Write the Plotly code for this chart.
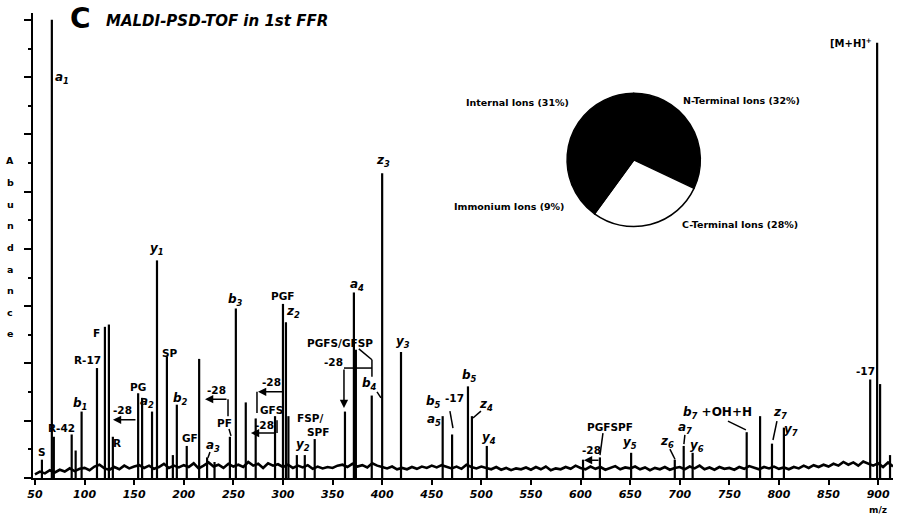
import plotly.graph_objects as go

FONT = "DejaVu Sans"

# resolved fragment peaks: m/z and relative abundance (a1 = 100)
peak_mz = [57, 67, 69, 87, 91, 97, 112.5, 120.5, 124.5, 128.5, 154, 158, 168, 173,
           183, 189, 193, 203, 215.5, 223.5, 231, 246.5, 252.5, 262.5, 272.5, 292,
           300, 303, 305.5, 314, 322, 332, 362.5, 371.5, 373.5, 389.5, 400, 419,
           461, 470.5, 486.5, 490.5, 505.5, 602.5, 619.5, 651, 695, 704, 713,
           767.5, 781, 793, 805, 892, 899, 902, 912]
peak_int = [4, 100, 9, 9.5, 6, 14.5, 24, 33, 33.5, 9, 18.5, 17.5, 14.5, 47.5,
            26.5, 5, 16, 7, 26, 4.5, 3.5, 9, 37, 16.5, 13, 13.5,
            38, 34, 13.5, 5, 5, 8.5, 14.5, 40.5, 28, 18, 66.5, 27.5,
            13.5, 9.5, 20, 13.5, 7, 4, 4.5, 5.5, 4, 7, 5.5,
            10, 13.5, 7.5, 11, 21.5, 95, 20.5, 5]

# chemical noise floor read every 5 m/z from 50 to 915
noise_mz = list(range(50, 916, 5))
noise_int = [0.8, 1.4, 1.0, 1.7, 1.2, 1.8, 1.4, 2.1, 1.5, 2.0,
             2.2, 1.7, 2.5, 2.9, 2.1, 1.8, 2.4, 1.9, 2.7, 2.1,
             2.5, 2.8, 2.2, 2.7, 2.0, 2.4, 3.1, 2.2, 2.7, 2.3,
             2.8, 2.4, 3.2, 2.1, 2.7, 3.4, 2.5, 2.9, 2.2, 3.1,
             2.5, 2.9, 2.4, 3.5, 2.7, 3.1, 2.2, 3.2, 2.7, 3.0,
             2.4, 2.9, 2.2, 2.7, 2.3, 2.8, 2.0, 2.5, 2.1, 2.4,
             2.2, 2.7, 2.9, 2.4, 3.1, 2.5, 2.8, 2.3, 3.2, 2.7,
             2.4, 2.1, 2.5, 1.9, 2.2, 1.9, 2.4, 2.0, 2.5, 2.2,
             2.7, 2.3, 2.8, 2.4, 2.1, 2.5, 2.0, 2.9, 2.4, 2.1,
             2.5, 2.2, 1.9, 2.4, 1.8, 2.2, 1.7, 2.1, 1.9, 2.3,
             1.8, 2.4, 1.9, 2.5, 1.7, 2.1, 1.9, 2.4, 2.0, 2.7,
             2.2, 1.9, 2.5, 2.0, 2.4, 1.8, 2.2, 2.6, 1.9, 2.3,
             2.1, 2.5, 1.9, 2.3, 1.7, 2.2, 1.9, 2.4, 1.8, 2.2,
             2.4, 1.9, 2.5, 2.1, 2.7, 1.9, 2.3, 1.8, 2.4, 2.0,
             2.2, 1.8, 2.4, 2.0, 2.6, 2.2, 1.9, 2.4, 2.1, 2.5,
             2.0, 2.3, 1.9, 2.4, 2.1, 2.7, 2.2, 2.8, 2.4, 2.9,
             2.5, 3.1, 2.7, 3.5, 2.9, 3.4, 2.7, 3.6, 3.1, 2.7,
             3.2, 2.4, 3.4, 2.5]

# inset: fragment ion type distribution
pie_labels = ["N-Terminal Ions (32%)", "C-Terminal Ions (28%)",
              "Immonium Ions (9%)", "Internal Ions (31%)"]
pie_values = [32, 28, 9, 31]
pie_colors = ["black", "white", "black", "black"]

# peak assignments: text, m/z, abundance, italic
peak_labels = [
    ("a<sub>1</sub>", 77.2, 87.3, True),
    ("S", 57.1, 5.7, False),
    ("R-42", 77.2, 10.9, False),
    ("b<sub>1</sub>", 95.4, 16.2, True),
    ("R-17", 103.4, 25.8, False),
    ("F", 112.5, 31.7, False),
    ("R", 132.7, 7.6, False),
    ("-28", 138.7, 14.8, False),
    ("PG", 153.8, 19.9, False),
    ("a<sub>2</sub>", 162.9, 16.6, True),
    ("y<sub>1</sub>", 173.0, 50.0, True),
    ("SP", 186.1, 27.3, False),
    ("b<sub>2</sub>", 196.2, 17.2, True),
    ("GF", 206.3, 8.7, False),
    ("a<sub>3</sub>", 229.4, 7.0, True),
    ("-28", 232.5, 19.2, False),
    ("PF", 241.5, 12.0, False),
    ("b<sub>3</sub>", 252.6, 38.9, True),
    ("PGF", 300.0, 39.7, False),
    ("z<sub>2</sub>", 310.1, 36.2, True),
    ("-28", 288.9, 21.0, False),
    ("GFS", 288.9, 14.8, False),
    ("-28", 281.0, 11.5, False),
    ("y<sub>2</sub>", 320.2, 7.2, True),
    ("FSP/", 327.2, 13.1, False),
    ("SPF", 335.3, 10.0, False),
    ("PGFS/GFSP", 357.5, 29.5, False),
    ("-28", 351.4, 25.3, False),
    ("a<sub>4</sub>", 374.6, 42.1, True),
    ("b<sub>4</sub>", 387.7, 20.5, True),
    ("z<sub>3</sub>", 400.8, 69.2, True),
    ("y<sub>3</sub>", 421.0, 29.7, True),
    ("b<sub>5</sub>", 452.0, 16.6, True),
    ("-17", 472.5, 17.5, False),
    ("a<sub>5</sub>", 452.0, 12.7, True),
    ("b<sub>5</sub>", 488.5, 22.3, True),
    ("z<sub>4</sub>", 504.6, 15.9, True),
    ("y<sub>4</sub>", 507.7, 8.7, True),
    ("-28", 611.5, 6.1, False),
    ("PGFSPF", 629.6, 11.1, False),
    ("y<sub>5</sub>", 649.8, 7.6, True),
    ("z<sub>6</sub>", 687.1, 7.9, True),
    ("a<sub>7</sub>", 705.2, 10.9, True),
    ("y<sub>6</sub>", 717.3, 7.0, True),
    ("b<sub>7</sub><span style='font-style:normal'> +OH+H</span>", 738.5, 14.2, True),
    ("z<sub>7</sub>", 801.0, 14.2, True),
    ("y<sub>7</sub>", 812.1, 10.5, True),
    ("-17", 887.7, 23.4, False),
]

# mass-loss arrows: head (m/z, abundance) <- tail (m/z, abundance)
arrows = [
    ((128.6, 12.7), (152.8, 12.7)),
    ((221.4, 17.2), (244.6, 17.2)),
    ((274.8, 18.8), (301.0, 18.8)),
    ((267.7, 9.8), (294.0, 9.8)),
    ((361.5, 15.3), (361.5, 24.0)),
    ((603.4, 3.9), (619.6, 3.9)),
]

# leader lines from labels to peaks
leaders = [
    ((226.4, 5.7), (224.4, 4.4)),
    ((244.6, 17.2), (244.6, 13.5)),
    ((245.6, 10.7), (247.6, 9.2)),
    ((273.8, 18.8), (273.8, 14.2)),
    ((294.0, 9.8), (294.0, 12.6)),
    ((361.5, 24.0), (389.7, 24.0)),
    ((389.7, 25.8), (389.7, 22.1)),
    ((376.5, 28.2), (389.7, 25.8)),
    ((394.8, 18.8), (398.8, 17.5)),
    ((468.3, 14.6), (471.4, 10.9)),
    ((499.6, 14.6), (491.5, 13.1)),
    ((622.6, 9.8), (619.6, 5.0)),
    ((690.1, 6.3), (695.2, 4.1)),
    ((705.2, 9.4), (704.2, 7.4)),
    ((748.6, 12.4), (766.7, 10.5)),
    ((798.0, 12.4), (794.0, 8.3)),
]

stick_x, stick_y = [], []
for mz, inten in zip(peak_mz, peak_int):
    stick_x += [mz, mz, None]
    stick_y += [0, inten, None]

fig = go.Figure()
fig.add_trace(go.Scatter(x=noise_mz, y=noise_int, mode="lines",
                         line=dict(color="black", width=2.6), hoverinfo="skip"))
fig.add_trace(go.Scatter(x=stick_x, y=stick_y, mode="lines",
                         line=dict(color="black", width=2.2), hoverinfo="skip"))
fig.add_trace(go.Pie(
    values=pie_values, labels=pie_labels, sort=False, direction="clockwise",
    rotation=0, textinfo="none", hoverinfo="label",
    marker=dict(colors=pie_colors, line=dict(color="black", width=1.5)),
    domain=dict(x=[0.621, 0.776], y=[0.540, 0.828]),
))

for text, x, y, ital in peak_labels:
    fig.add_annotation(x=x, y=y, xref="x", yref="y", text=text, showarrow=False,
                       font=dict(family=FONT, size=12 if ital else 10.5, weight="bold",
                                 style="italic" if ital else "normal"))

fig.add_annotation(x=895.8, y=95.0, xref="x", yref="y", text="[M+H]<sup>+</sup>",
                   showarrow=False, xanchor="right",
                   font=dict(family=FONT, size=10, weight="bold"))

for head, tail in arrows:
    fig.add_annotation(x=head[0], y=head[1], ax=tail[0], ay=tail[1],
                       xref="x", yref="y", axref="x", ayref="y", text="",
                       showarrow=True, arrowhead=2, arrowsize=1.1, arrowwidth=1.5,
                       arrowcolor="black")

for (x0, y0), (x1, y1) in leaders:
    fig.add_shape(type="line", x0=x0, y0=y0, x1=x1, y1=y1, xref="x", yref="y",
                  line=dict(color="black", width=1.5))


def paper_text(text, x, y, size, xanchor="center", style="normal"):
    fig.add_annotation(x=x, y=y, xref="paper", yref="paper", text=text,
                       showarrow=False, xanchor=xanchor, yanchor="middle",
                       font=dict(family=FONT, size=size, weight="bold", style=style))


# pie labels
paper_text("Internal Ions (31%)", 0.5628, 0.8065, 9.5)
paper_text("N-Terminal Ions (32%)", 0.8244, 0.8129, 9.5)
paper_text("Immonium Ions (9%)", 0.5535, 0.5828, 9.5)
paper_text("C-Terminal Ions (28%)", 0.8221, 0.5462, 9.5)

# panel title
paper_text("C", 0.0407, 0.989, 28, xanchor="left")
paper_text("MALDI-PSD-TOF in 1st FFR", 0.0826, 0.982, 15, xanchor="left",
           style="italic")

# stacked y-axis title
for i, ch in enumerate("Abundance"):
    paper_text(ch, -0.0267, (478 - (161 + 21.6 * i)) / 465, 9.5)

paper_text("m/z", 0.9826, -0.0688, 9)

fig.update_layout(
    width=900,
    height=520,
    margin=dict(l=33, r=7, t=13, b=42),
    plot_bgcolor="white",
    paper_bgcolor="white",
    showlegend=False,
    font=dict(family=FONT, color="black"),
)

fig.update_xaxes(range=[48, 915], showline=True, linecolor="black", linewidth=2,
                 ticks="outside", ticklen=5, tickwidth=1.5, tickcolor="black",
                 tickmode="linear", tick0=50, dtick=50, showgrid=False, zeroline=False,
                 automargin=False,
                 tickfont=dict(family=FONT, size=11, weight="bold", style="italic"))
fig.update_yaxes(range=[0, 101.5], showline=True, linecolor="black", linewidth=2,
                 ticks="outside", ticklen=7, tickwidth=1.5, tickcolor="black",
                 tickmode="linear", tick0=0, dtick=12.5, showticklabels=False,
                 minor=dict(ticks="outside", ticklen=3, tickwidth=1.5,
                            tickcolor="black", dtick=6.25),
                 showgrid=False, zeroline=False, automargin=False)

fig.write_html("out.html", config={"displayModeBar": False},
               post_script="document.body.style.margin = '0';")
